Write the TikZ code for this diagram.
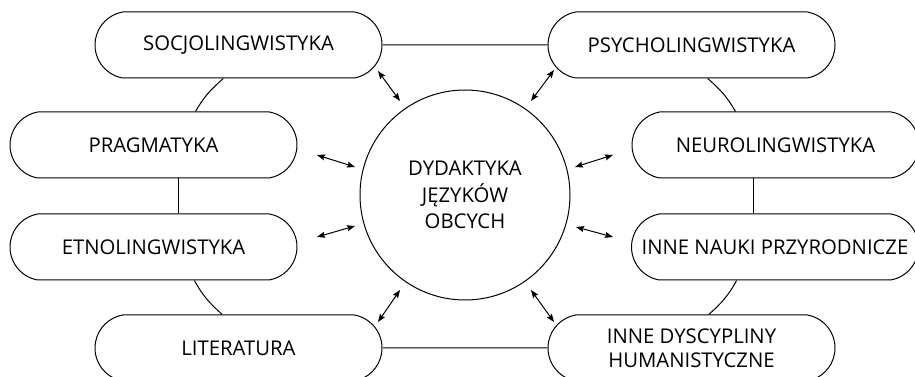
\documentclass[tikz,border=0pt]{standalone}
\usepackage{fontspec}
\setmainfont{Open Sans}
\usetikzlibrary{shapes.misc,arrows.meta}
\tikzset{
  boxnode/.style={draw=black, line width=1pt, fill=white, rounded rectangle,
    rounded rectangle arc length=160, minimum width=287pt, minimum height=66pt,
    inner sep=0pt, align=center, font=\fontsize{20.3}{24}\selectfont, text=black},
  hubnode/.style={draw=black, line width=1pt, circle, minimum size=210pt,
    inner sep=0pt, align=center, font=\fontsize{20.3}{26.5}\selectfont, text=black},
  linkline/.style={draw=black, line width=1pt},
  twoway/.style={draw=black, line width=1pt,
    {Stealth[length=8pt,width=6pt,inset=1.2pt]}-{Stealth[length=8pt,width=6pt,inset=1.2pt]}}
}
\begin{document}
\begin{tikzpicture}[x=1pt,y=1pt]
\useasboundingbox (0,0) rectangle (915,377);
\clip (0,0) rectangle (915,377);
% boxes
\node[boxnode] (soc) at (238.5,332) {SOCJOLINGWISTYKA};
\node[boxnode] (psy) at (691.5,332) {PSYCHOLINGWISTYKA};
\node[boxnode] (prag) at (153.5,232) {PRAGMATYKA};
\node[boxnode] (neuro) at (775.5,232) {NEUROLINGWISTYKA};
\node[boxnode] (etno) at (153.5,130) {ETNOLINGWISTYKA};
\node[boxnode] (nauki) at (775,130) {INNE NAUKI PRZYRODNICZE};
\node[boxnode] (lit) at (238.5,29) {LITERATURA};
\node[boxnode] (hum) at (691.5,29) {INNE DYSCYPLINY\\HUMANISTYCZNE};
\node[hubnode] (dyd) at (465,182) {DYDAKTYKA\\JĘZYKÓW\\OBCYCH};
% outer ring connectors
\draw[linkline] (soc) -- (psy);
\draw[linkline] (lit) -- (hum);
\draw[linkline] ([xshift=24.5pt]prag.south) -- ([xshift=24.5pt]etno.north);
\draw[linkline] ([xshift=-22.5pt]neuro.south) -- ([xshift=-22pt]nauki.north);
\draw[linkline] ([xshift=-15.2pt]soc.south) to[out=221.25,in=60.26] ([xshift=42pt]prag.north);
\draw[linkline] ([xshift=16.2pt]psy.south) to[out=318.75,in=119.74] ([xshift=-40pt]neuro.north);
\draw[linkline] ([xshift=40.9pt]etno.south) to[out=298.76,in=138.1] ([xshift=-16.3pt]lit.north);
\draw[linkline] ([xshift=-38.4pt]nauki.south) to[out=241.24,in=41.9] ([xshift=17.3pt]hum.north);
% arrows
\coordinate (a1s) at (378,306); \coordinate (a1e) at (400,276);
\coordinate (a2s) at (317,222); \coordinate (a2e) at (355,210);
\coordinate (a3s) at (317,140); \coordinate (a3e) at (355,151);
\coordinate (a4s) at (378,55);  \coordinate (a4e) at (400,87);
\coordinate (a5s) at (531,276); \coordinate (a5e) at (554,307);
\coordinate (a6s) at (575,210); \coordinate (a6e) at (613,222);
\coordinate (a7s) at (576,150); \coordinate (a7e) at (613,140);
\coordinate (a8s) at (531,87);  \coordinate (a8e) at (554,55);
\foreach \k in {1,...,8} { \draw[twoway] (a\k s) -- (a\k e); }
\end{tikzpicture}
\end{document}
